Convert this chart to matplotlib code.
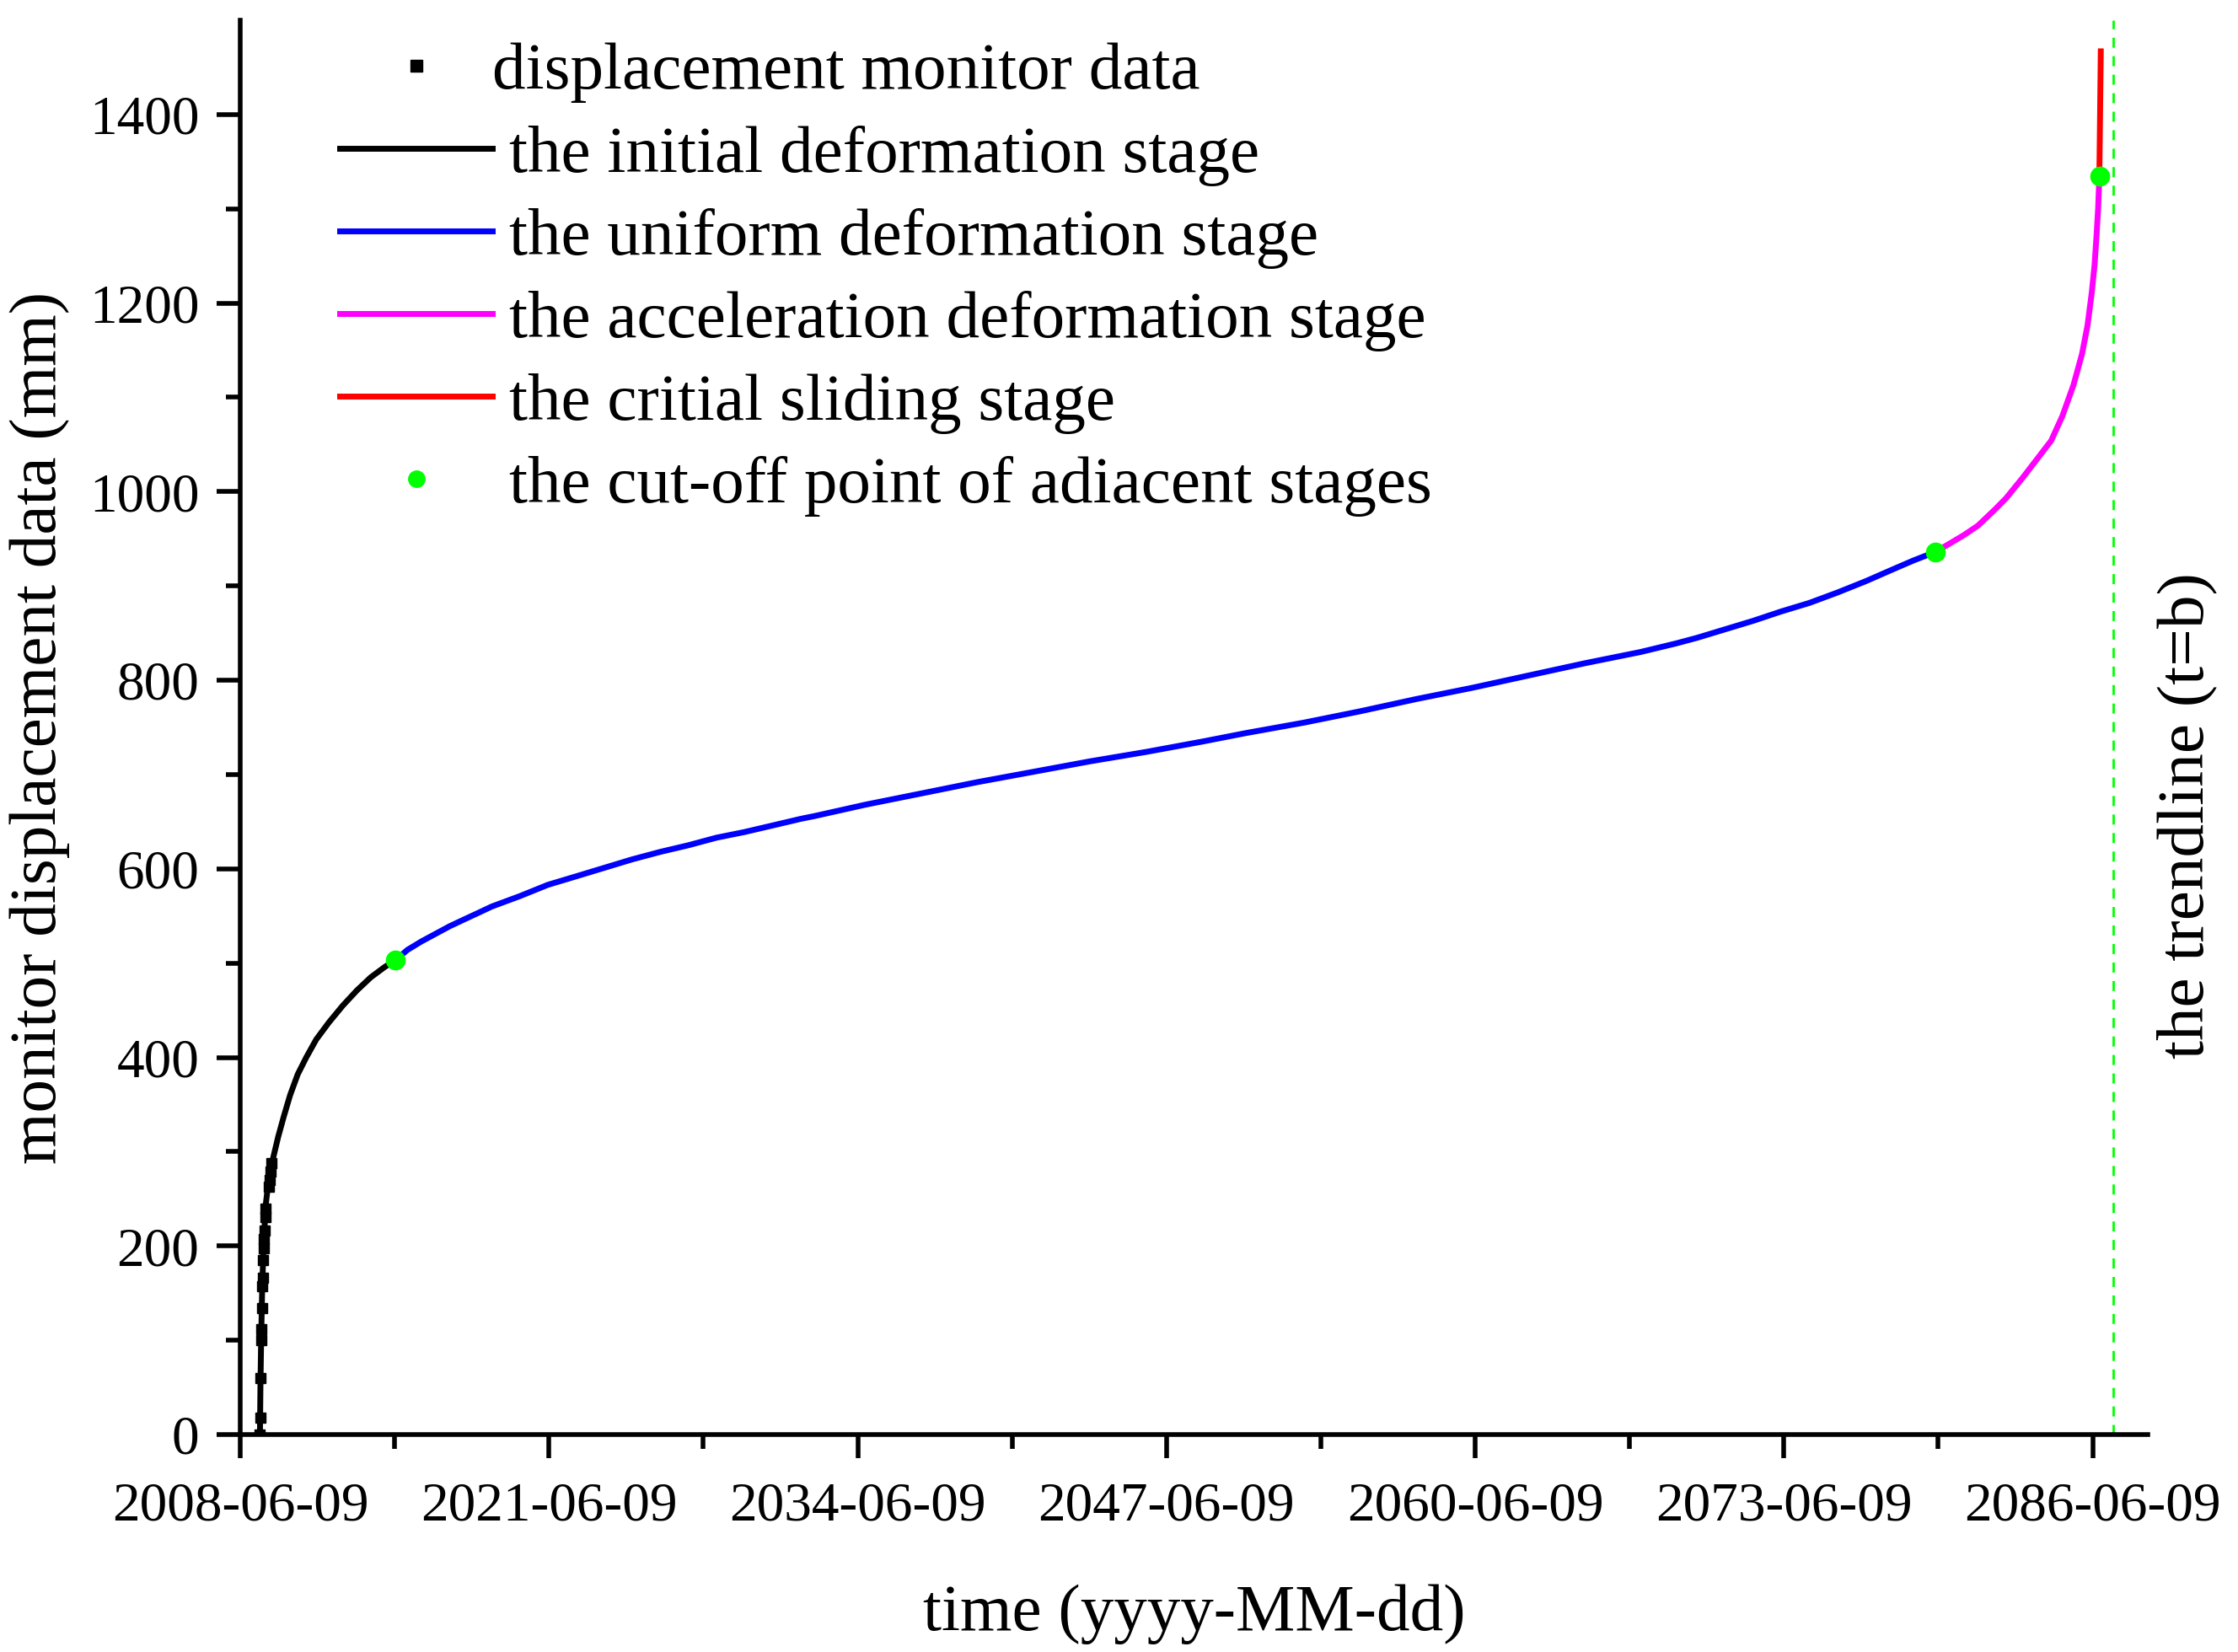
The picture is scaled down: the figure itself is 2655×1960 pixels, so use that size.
import numpy as np
import matplotlib
matplotlib.use("Agg")
import matplotlib.dates as mdates
from matplotlib import pyplot as plt
from matplotlib.lines import Line2D
from datetime import datetime

# time is in years after 2008-06-09
monitor_t = [0.82, 0.84, 0.85, 0.88, 0.89, 0.91, 0.94, 0.95, 0.97, 0.99, 1.00, 1.02, 1.06, 1.08, 1.20, 1.24, 1.28, 1.32]
monitor_y = [0, 18, 60, 100, 112, 134, 157, 166, 185, 198, 207, 216, 231, 240, 263, 270, 279, 288]

init_t = [0.83, 0.85, 0.88, 0.92, 0.98, 1.08, 1.22, 1.42, 1.60, 1.83, 2.10, 2.42, 2.78, 3.20,
          3.73, 4.32, 4.91, 5.50, 6.09, 6.53]
init_y = [0, 50, 100, 150, 200, 245, 275, 297, 316, 337, 360, 382, 400, 419,
          437, 455, 471, 485, 496, 503]

uniform_t = [6.53, 7.04, 7.63, 8.22, 8.81, 9.40, 10.00, 10.59, 11.77, 12.95, 14.14, 15.32, 16.50,
             17.69, 18.87, 20.05, 21.23, 22.42, 23.60, 24.19, 26.32, 28.69, 31.05, 33.42, 35.78,
             38.15, 40.52, 42.35, 44.78, 47.14, 49.51, 51.88, 54.24, 56.61, 58.97, 60.45, 61.34,
             62.52, 63.70, 64.89, 66.07, 67.25, 68.44, 69.62, 70.45, 71.37]
uniform_y = [503, 514, 523, 531, 539, 546, 553, 560, 571, 583, 592, 601, 610,
             618, 625, 633, 639, 646, 653, 656, 668, 680, 692, 703, 714,
             724, 735, 744, 755, 767, 780, 792, 805, 818, 830, 839, 845,
             854, 863, 873, 882, 893, 905, 918, 927, 936]

accel_t = [71.37, 71.98, 72.58, 73.17, 73.88, 74.35, 75.06, 76.25, 76.72, 77.19, 77.55, 77.78,
           77.96, 78.08, 78.16, 78.23, 78.28]
accel_y = [936, 945, 954, 964, 981, 993, 1015, 1054, 1080, 1113, 1146, 1176,
           1211, 1241, 1271, 1301, 1335]

crit_t = [78.28, 78.31, 78.34]
crit_y = [1335, 1400, 1467]

cut_t = [6.53, 71.37, 78.28]
cut_y = [503, 936, 1335]

trend_t = 78.85

start = mdates.date2num(datetime(2008, 6, 9))
tick_dates = [datetime(2008 + 13 * k, 6, 9) for k in range(7)]


def to_x(t):
    return start + np.asarray(t) * 365.25


plt.rcParams['font.family'] = ['Liberation Serif', 'DejaVu Serif']

fig = plt.figure(figsize=(26.55, 19.60), dpi=100)
ax = fig.add_axes([285 / 2655, 1 - 1702 / 1960, (2548 - 285) / 2655, (1702 - 24) / 1960])

lw = 5
ax.plot(to_x(init_t), init_y, color='black', lw=lw, zorder=3)
ax.plot(to_x(monitor_t), monitor_y, ls='', marker='s', ms=8.5, color='black', zorder=4)
ax.plot(to_x(uniform_t), uniform_y, color='#0000ff', lw=lw, zorder=3)
ax.plot(to_x(accel_t), accel_y, color='#ff00ff', lw=lw, zorder=3)
ax.plot(to_x(crit_t), crit_y, color='#ff0000', lw=lw, zorder=3)
ax.plot(to_x(cut_t), cut_y, ls='', marker='o', ms=16, color='#00ff00', zorder=5)
ax.axvline(to_x(trend_t), color='#00ff00', lw=2, ls=(0, (4.3, 3.6)), zorder=2)

ax.set_xlim(start, start + 80.32 * 365.25)
ax.set_ylim(0, 1500)

ax.set_xticks(mdates.date2num(tick_dates))
mids = mdates.date2num(tick_dates)
ax.set_xticks((mids[:-1] + mids[1:]) / 2, minor=True)
ax.xaxis.set_major_formatter(mdates.DateFormatter('%Y-%m-%d'))
ax.set_yticks(np.arange(0, 1401, 200))
ax.set_yticks(np.arange(100, 1500, 200), minor=True)

for side in ['top', 'right']:
    ax.spines[side].set_visible(False)
for side in ['left', 'bottom']:
    ax.spines[side].set_linewidth(4)
ax.tick_params(which='major', direction='out', length=20, width=4, labelsize=47)
ax.tick_params(axis='x', which='major', pad=20)
ax.tick_params(axis='y', which='major', pad=15)
ax.tick_params(which='minor', direction='out', length=12, width=4)

ax.set_xlabel('time (yyyy-MM-dd)', fontsize=57, va='center')
ax.xaxis.set_label_coords(0.5, -0.127)
ax.set_ylabel('monitor displacement data (mm)', fontsize=57, va='center', ha='center')
ax.yaxis.set_label_coords(-0.1052, 0.5)

fig.text(2594 / 2655, 1 - 968 / 1960, 'the trendline (t=b)', rotation=90,
         fontsize=57, ha='center', va='center')

handles = [
    Line2D([], [], ls='', marker='s', ms=10, color='black', label='displacement monitor data'),
    Line2D([], [], color='black', lw=lw, label='the initial deformation stage'),
    Line2D([], [], color='#0000ff', lw=lw, label='the uniform deformation stage'),
    Line2D([], [], color='#ff00ff', lw=lw, label='the acceleration deformation stage'),
    Line2D([], [], color='#ff0000', lw=lw, label='the critial sliding stage'),
    Line2D([], [], ls='', marker='o', ms=14, color='#00ff00', label='the cut-off point of adiacent stages'),
]
leg = ax.legend(handles=handles, loc='upper left', bbox_to_anchor=(403 / 2655, 1 - 50 / 1960),
                bbox_transform=fig.transFigure, frameon=False, borderpad=0, borderaxespad=0,
                handlelength=2.29, handletextpad=0.25, labelspacing=0.325, fontsize=57)
# first entry text sits a little further left in the original
leg.get_texts()[0].set_x(-20)

fig.savefig('out.png', dpi=100)
